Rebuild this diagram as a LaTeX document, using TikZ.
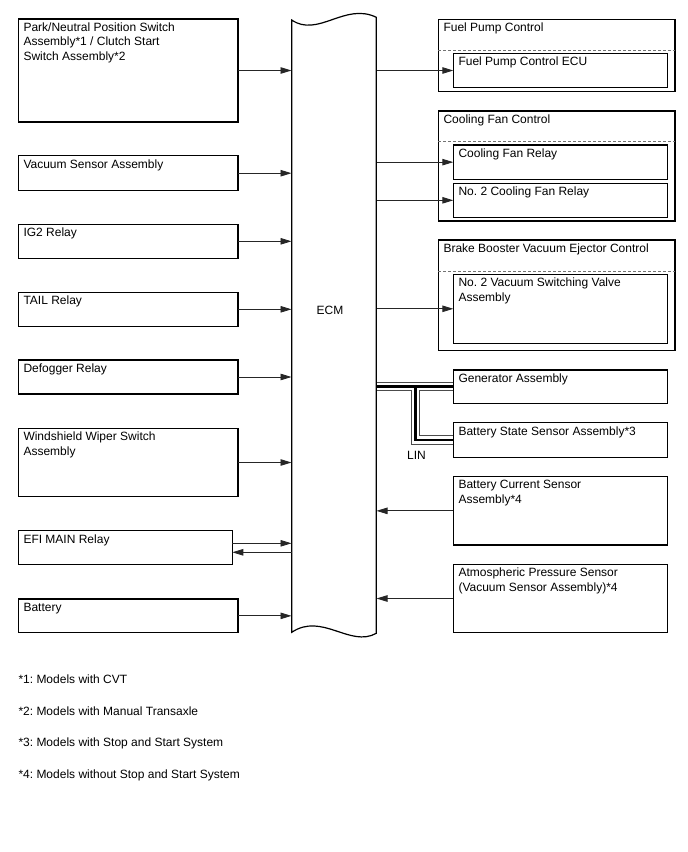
\documentclass[tikz,border=0pt]{standalone}
\usepackage{fontspec}
\setmainfont{Liberation Sans}
\frenchspacing
\usetikzlibrary{arrows.meta,backgrounds}
\tikzset{
  box/.style={draw, line width=1.2pt, rectangle, inner sep=0pt, outer sep=0pt, anchor=north west},
  lbl/.style={anchor=north west, inner sep=0pt, align=left, font=\fontsize{12}{14.3}\selectfont},
  arr/.style={-{Triangle[length=11pt,width=6.5pt]}, line width=0.9pt, draw=black!85},
  sepline/.style={draw=black!55, dash pattern=on 3pt off 2pt, line width=0.9pt},
  note/.style={anchor=base west, inner sep=0pt, font=\fontsize{12}{14.3}\selectfont},
}
\begin{document}
\begin{tikzpicture}[x=1pt,y=-1pt]
\useasboundingbox (0,0) rectangle (688,852);
% ECM
\node[draw=none, minimum width=84.6pt, minimum height=612pt, inner sep=0pt] (ecm) at (334,326) {};
\draw[line width=1.2pt, line join=miter] (291.7,632.3) -- (291.7,20) .. controls (318,38) and (345,2) .. (376.3,17.3) -- (376.3,633.3) .. controls (350,648) and (322,612) .. (291.7,632.3) -- cycle;
\node[lbl, anchor=center] (ecmlbl) at (330,310) {ECM};
% left boxes
\node[box, minimum width=219.7pt, minimum height=103pt] (park) at (18.3,19) {};
\node[box, minimum width=219.7pt, minimum height=35pt] (vac) at (18.3,155.7) {};
\node[box, minimum width=219.7pt, minimum height=34pt] (ig2) at (18.3,224.3) {};
\node[box, minimum width=219.7pt, minimum height=34pt] (tail) at (18.3,292.3) {};
\node[box, minimum width=219.7pt, minimum height=34pt] (defog) at (18.3,360) {};
\node[box, minimum width=219.7pt, minimum height=68.4pt] (wiper) at (18.3,428.3) {};
\node[box, minimum width=214pt, minimum height=33.6pt] (efi) at (18.3,530.7) {};
\node[box, minimum width=219.7pt, minimum height=33.7pt] (batt) at (18.3,599) {};
\node[lbl] (tpark) at ([shift={(5pt,-3.7pt)}]park.north west) {Park/Neutral Position Switch\\Assembly*1 / Clutch Start\\Switch Assembly*2};
\node[lbl] (tvac) at ([shift={(5pt,-3.7pt)}]vac.north west) {Vacuum Sensor Assembly};
\node[lbl] (tig2) at ([shift={(5pt,-3.7pt)}]ig2.north west) {IG2 Relay};
\node[lbl] (ttail) at ([shift={(5pt,-3.7pt)}]tail.north west) {TAIL Relay};
\node[lbl] (tdefog) at ([shift={(5pt,-3.7pt)}]defog.north west) {Defogger Relay};
\node[lbl] (twiper) at ([shift={(5pt,-3.7pt)}]wiper.north west) {Windshield Wiper Switch\\Assembly};
\node[lbl] (tefi) at ([shift={(5pt,-3.7pt)}]efi.north west) {EFI MAIN Relay};
\node[lbl] (tbatt) at ([shift={(5pt,-3.7pt)}]batt.north west) {Battery};
% right outer groups
\node[box, minimum width=236.7pt, minimum height=72.4pt] (fpc) at (438.3,19.3) {};
\node[box, minimum width=236.7pt, minimum height=110pt] (cfc) at (438.3,111) {};
\node[box, minimum width=236.7pt, minimum height=110.7pt] (bbc) at (438.3,240) {};
\draw[sepline] ([yshift=-30.7pt]fpc.north west) -- ([yshift=-30.7pt]fpc.north east);
\draw[sepline] ([yshift=-30.7pt]cfc.north west) -- ([yshift=-30.7pt]cfc.north east);
\draw[sepline] ([yshift=-31pt]bbc.north west) -- ([yshift=-31pt]bbc.north east);
\node[lbl] (tfpc) at ([shift={(5pt,-3.7pt)}]fpc.north west) {Fuel Pump Control};
\node[lbl] (tcfc) at ([shift={(5pt,-3.7pt)}]cfc.north west) {Cooling Fan Control};
\node[lbl] (tbbc) at ([shift={(5pt,-3.7pt)}]bbc.north west) {Brake Booster Vacuum Ejector Control};
% right inner boxes
\node[box, minimum width=214.4pt, minimum height=34.4pt] (fpecu) at (453.3,53.3) {};
\node[box, minimum width=214.4pt, minimum height=34.3pt] (cfr) at (453.3,145) {};
\node[box, minimum width=214.4pt, minimum height=34pt] (cfr2) at (453.3,183.3) {};
\node[box, minimum width=214.4pt, minimum height=69pt] (vsv) at (453.3,274.3) {};
\node[box, minimum width=214.4pt, minimum height=33.3pt] (gen) at (453.3,370) {};
\node[box, minimum width=214.4pt, minimum height=34.6pt] (bss) at (453.3,422.7) {};
\node[box, minimum width=214.4pt, minimum height=68.3pt] (bcs) at (453.3,476.7) {};
\node[box, minimum width=214.4pt, minimum height=68.4pt] (aps) at (453.3,564.3) {};
\node[lbl] (tfpecu) at ([shift={(5pt,-3.7pt)}]fpecu.north west) {Fuel Pump Control ECU};
\node[lbl] (tcfr) at ([shift={(5pt,-3.7pt)}]cfr.north west) {Cooling Fan Relay};
\node[lbl] (tcfr2) at ([shift={(5pt,-3.7pt)}]cfr2.north west) {No. 2 Cooling Fan Relay};
\node[lbl] (tvsv) at ([shift={(5pt,-3.7pt)}]vsv.north west) {No. 2 Vacuum Switching Valve\\Assembly};
\node[lbl] (tgen) at ([shift={(5pt,-3.7pt)}]gen.north west) {Generator Assembly};
\node[lbl] (tbss) at ([shift={(5pt,-3.7pt)}]bss.north west) {Battery State Sensor Assembly*3};
\node[lbl] (tbcs) at ([shift={(5pt,-3.7pt)}]bcs.north west) {Battery Current Sensor\\Assembly*4};
\node[lbl] (taps) at ([shift={(5pt,-3.7pt)}]aps.north west) {Atmospheric Pressure Sensor\\(Vacuum Sensor Assembly)*4};
% left arrows into ECM
\foreach \n in {park,vac,ig2,tail,defog,wiper,batt}
  \draw[arr] (\n.east) -- (\n.east -| ecm.west);
\draw[arr] ([yshift=4.2pt]efi.east) -- ([yshift=4.2pt]efi.east -| ecm.west);
\draw[arr] ([yshift=-4.8pt]efi.east -| ecm.west) -- ([yshift=-4.8pt]efi.east);
% right arrows
\foreach \n in {fpecu,cfr,cfr2,vsv}
  \draw[arr] (\n.west -| ecm.east) -- (\n.west);
\foreach \n in {bcs,aps}
  \draw[arr] (\n.west) -- (\n.west -| ecm.east);
% LIN bus
\coordinate (lj) at (415.3,0);
\begin{pgfonlayer}{background}
\foreach \w/\c in {9.5/black!70,7.5/white,2.5/black}
  \draw[line width=\w pt, draw=\c, line join=miter] (gen.west -| ecm.east) -- (gen.west)
    (lj |- gen.west) -- (lj |- bss.west) -- (bss.west);
\end{pgfonlayer}
\node[lbl, anchor=west] (lin) at (407,455) {LIN};
% notes
\node[note] (fn1) at (18.3,683.3) {*1: Models with CVT};
\node[note] (fn2) at (18.3,715) {*2: Models with Manual Transaxle};
\node[note] (fn3) at (18.3,746.8) {*3: Models with Stop and Start System};
\node[note] (fn4) at (18.3,778.5) {*4: Models without Stop and Start System};
\end{tikzpicture}
\end{document}
